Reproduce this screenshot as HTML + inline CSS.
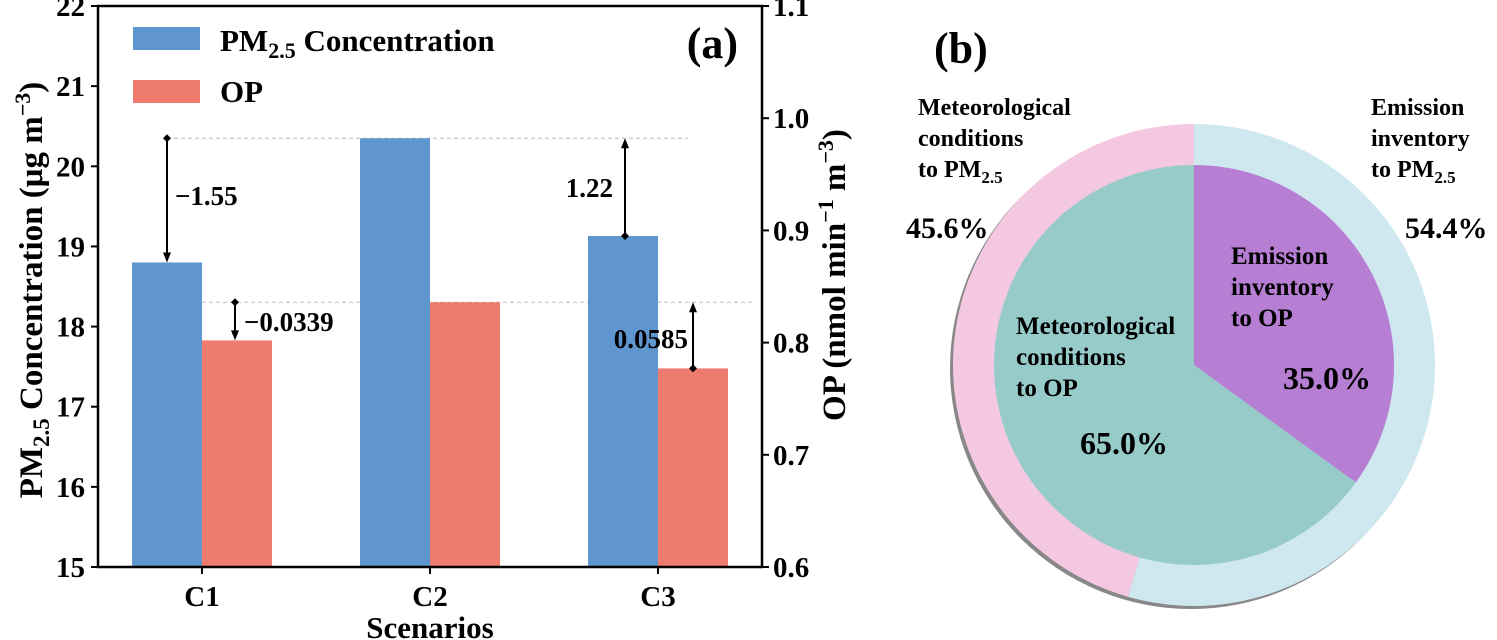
<!DOCTYPE html>
<html><head><meta charset="utf-8"><style>
html,body{margin:0;padding:0;background:#fff;}
svg{display:block;font-family:"Liberation Serif",serif;font-weight:bold;}
</style></head><body>
<svg id="chart" width="1497" height="640" viewBox="0 0 1497 640">
<g id="barg"></g>
<g id="pieg"></g>
</svg>
<script>
const categories=["C1","C2","C3"];
const pmValues=[18.8,20.35,19.13];
const opValues=[0.802,0.836,0.777];
const pmTicks=[15,16,17,18,19,20,21,22];
const opTicks=["0.6","0.7","0.8","0.9","1.0","1.1"];
const pmDiffLabels=["\u22121.55","","1.22"];
const opDiffLabels=["\u22120.0339","","0.0585"];
const ringValues=[54.4,45.6];
const ringLabels=["54.4%","45.6%"];
const innerValues=[35.0,65.0];
const innerLabels=["35.0%","65.0%"];

const NS="http://www.w3.org/2000/svg";
function mk(tag,attrs,parent,text){const e=document.createElementNS(NS,tag);for(const k in attrs)e.setAttribute(k,attrs[k]);if(text!==undefined)e.textContent=text;parent.appendChild(e);return e;}
const L=98,R=762,T=6,B=567;
const yPM=v=>B-(v-15)/7*(B-T);
const yOP=v=>B-(v-0.6)/0.5*(B-T);
const xCat=i=>202+i*228;
const bw=70;
const g=document.getElementById('barg');

let d1=mk('line',{x1:xCat(0)-35,y1:yPM(pmValues[1]),x2:xCat(2)+30,y2:yPM(pmValues[1]),stroke:'#bbb','stroke-dasharray':'4,3','stroke-width':1},g);


let d2=mk('line',{x1:xCat(0),y1:yOP(opValues[1]),x2:xCat(2)+95,y2:yOP(opValues[1]),stroke:'#bbb','stroke-dasharray':'4,3','stroke-width':1},g);



categories.forEach((c,i)=>{
  const b=mk('rect',{x:xCat(i)-bw,y:yPM(pmValues[i]),width:bw,height:B-yPM(pmValues[i]),fill:'#5f96d0'},g);
  
  
  const r=mk('rect',{x:xCat(i),y:yOP(opValues[i]),width:bw,height:B-yOP(opValues[i]),fill:'#ef7a6e'},g);
  
  
  const t=mk('text',{x:xCat(i),y:606,'font-size':29,'text-anchor':'middle'},g,c);
  
  
});

function arrow(x,y1,y2,name){
  const a=mk('g',{},g);
  
  
  const dir=y2>y1?1:-1;
  mk('line',{x1:x,y1:y1,x2:x,y2:y2-dir*8,stroke:'#000','stroke-width':2},a);
  mk('polygon',{points:`${x-4},${y2-dir*10} ${x+4},${y2-dir*10} ${x},${y2}`,fill:'#000'},a);
  mk('polygon',{points:`${x},${y1-4} ${x+4},${y1} ${x},${y1+4} ${x-4},${y1}`,fill:'#000'},a);
}
arrow(xCat(0)-35,yPM(pmValues[1]),yPM(pmValues[0]),'pm-diff-arrow-c1');
let t1=mk('text',{x:xCat(0)-27,y:205,'font-size':27},g,pmDiffLabels[0]);

arrow(xCat(0)+33,yOP(opValues[1]),yOP(opValues[0]),'op-diff-arrow-c1');
let t2=mk('text',{x:xCat(0)+42,y:331,'font-size':27},g,opDiffLabels[0]);

arrow(xCat(2)-33,yPM(pmValues[2]),yPM(pmValues[1]),'pm-diff-arrow-c3');
let t3=mk('text',{x:xCat(2)-45,y:197,'font-size':27,'text-anchor':'end'},g,pmDiffLabels[2]);

arrow(xCat(2)+35,yOP(opValues[2]),yOP(opValues[1]),'op-diff-arrow-c3');
let t4=mk('text',{x:xCat(2)+30,y:348,'font-size':27,'text-anchor':'end'},g,opDiffLabels[2]);


const fr=mk('rect',{x:L,y:T,width:R-L,height:B-T,fill:'none',stroke:'#000','stroke-width':2.5},g);

pmTicks.forEach(v=>{
  mk('line',{x1:L,y1:yPM(v),x2:L-7,y2:yPM(v),stroke:'#000','stroke-width':2},g);
  const t=mk('text',{x:L-13,y:yPM(v)+10,'font-size':29,'text-anchor':'end'},g,String(v));
  
});
opTicks.forEach(v=>{
  mk('line',{x1:R,y1:yOP(+v),x2:R+7,y2:yOP(+v),stroke:'#000','stroke-width':2},g);
  const t=mk('text',{x:R+11,y:yOP(+v)+10,'font-size':29},g,v);
  
});
categories.forEach((c,i)=>{mk('line',{x1:xCat(i),y1:B,x2:xCat(i),y2:B+7,stroke:'#000','stroke-width':2},g);});

const yl=mk('text',{transform:'translate(42,290) rotate(-90)','font-size':33,'text-anchor':'middle'},g);

yl.innerHTML='PM<tspan font-size="23" dy="7">2.5</tspan><tspan dy="-7"> Concentration (μg m</tspan><tspan font-size="22" dy="-12">−3</tspan><tspan dy="12">)</tspan>';
const yr=mk('text',{transform:'translate(845,275) rotate(-90)','font-size':33,'text-anchor':'middle'},g);

yr.innerHTML='OP (nmol min<tspan font-size="22" dy="-12">−1</tspan><tspan dy="12"> m</tspan><tspan font-size="22" dy="-12">−3</tspan><tspan dy="12">)</tspan>';
const xl=mk('text',{x:430,y:638,'font-size':31,'text-anchor':'middle'},g,'Scenarios');

const pa=mk('text',{x:738,y:58,'font-size':44,'text-anchor':'end'},g,'(a)');


const lg=mk('g',{},g);

mk('rect',{x:133,y:27,width:67,height:23,fill:'#5f96d0'},lg);
const le1=mk('text',{x:220,y:51,'font-size':31},lg);

le1.innerHTML='PM<tspan font-size="22" dy="7">2.5</tspan><tspan dy="-7"> Concentration</tspan>';
mk('rect',{x:133,y:80,width:67,height:23,fill:'#ef7a6e'},lg);
const le2=mk('text',{x:220,y:102,'font-size':31},lg,'OP');


const pg=document.getElementById('pieg');
const cx=1194,cy=365,Ro=241,Ri=200;
function slice(r,a0,a1,fill,name,parent){
  const p=(a)=>[cx+r*Math.sin(a),cy-r*Math.cos(a)];
  const [x0,y0]=p(a0),[x1,y1]=p(a1);
  const large=(a1-a0)>Math.PI?1:0;
  const s=mk('path',{d:`M${cx},${cy} L${x0},${y0} A${r},${r} 0 ${large} 1 ${x1},${y1} Z`,fill:fill},parent);
  
}
const sh=mk('circle',{cx:cx-3,cy:cy+3,r:Ro,fill:'#888'},pg);

const tot1=ringValues[0]+ringValues[1];
const a1=ringValues[0]/tot1*2*Math.PI;
slice(Ro,0,a1,'#cfe8ef','ring-emission-pm',pg);
slice(Ro,a1,2*Math.PI,'#f4c8e1','ring-meteorology-pm',pg);
const tot2=innerValues[0]+innerValues[1];
const a2=innerValues[0]/tot2*2*Math.PI;
slice(Ri,0,a2,'#b77fd3','inner-emission-op',pg);
slice(Ri,a2,2*Math.PI,'#97cbca','inner-meteorology-op',pg);

function mtext(x,y,lines,size,name,anchor){
  const t=mk('text',{x:x,y:y,'font-size':size,'text-anchor':anchor||'start'},pg);
  
  t.innerHTML=lines;
}
mtext(934,63,'(b)',44,'panel-label-b');
mtext(918,115,'<tspan x="918">Meteorological</tspan><tspan x="918" dy="31">conditions</tspan><tspan x="918" dy="31">to PM</tspan><tspan font-size="17" dy="6">2.5</tspan>',24,'label-meteorology-pm');
mtext(1371,115,'<tspan x="1371">Emission</tspan><tspan x="1371" dy="31">inventory</tspan><tspan x="1371" dy="31">to PM</tspan><tspan font-size="17" dy="6">2.5</tspan>',24,'label-emission-pm');
mtext(906,238,ringLabels[1],30,'ring-pct-meteorology');
mtext(1405,238,ringLabels[0],30,'ring-pct-emission');
mtext(1231,264,'<tspan x="1231">Emission</tspan><tspan x="1231" dy="31">inventory</tspan><tspan x="1231" dy="31">to OP</tspan>',25,'label-emission-op');
mtext(1016,334,'<tspan x="1016">Meteorological</tspan><tspan x="1016" dy="31">conditions</tspan><tspan x="1016" dy="31">to OP</tspan>',25,'label-meteorology-op');
mtext(1283,389,innerLabels[0],32,'inner-pct-emission');
mtext(1080,454,innerLabels[1],32,'inner-pct-meteorology');
</script>
</body></html>
